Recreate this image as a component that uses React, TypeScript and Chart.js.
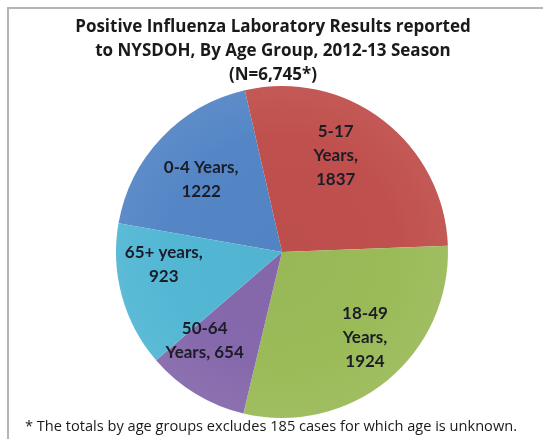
import React, { useEffect, useRef } from "react";
import { Chart, registerables } from "chart.js";

Chart.register(...registerables);

// ---- data ----
const ageGroups = ["0-4", "5-17", "18-49", "50-64", "65+"];
const yearWords = ["Years", "Years", "Years", "Years", "years"];
const cases = [1222, 1837, 1924, 654, 923];
const sliceColors = ["#5486C6", "#C0504D", "#9BBB59", "#8669AC", "#53B7D4"];
const titleLines = [
  "Positive Influenza Laboratory Results reported",
  "to NYSDOH, By Age Group, 2012-13 Season",
  "(N=6,745*)",
];
const footnote = "* The totals by age groups excludes 185 cases for which age is unknown.";

// label wrapping style per slice: a = "grp word," / value ; b = grp / word, / value ; c = grp / "word, value"
const labelWrap = ["a", "b", "b", "c", "a"];
// label anchor: fraction along the arc span, fraction of radius
const labelAnchor: [number, number][] = [
  [0.477, 0.655],
  [0.416, 0.667],
  [0.453, 0.716],
  [0.767, 0.71],
  [0.684, 0.716],
];

function labelLines(i: number): string[] {
  const g = ageGroups[i];
  const w = yearWords[i];
  const v = String(cases[i]);
  const m = labelWrap[i];
  if (m === "a") return [`${g} ${w},`, v];
  if (m === "b") return [g, `${w},`, v];
  return [g, `${w}, ${v}`];
}

function shade(hex: string, f: number): string {
  const n = parseInt(hex.slice(1), 16);
  let r = (n >> 16) & 255, g = (n >> 8) & 255, b = n & 255;
  if (f >= 0) {
    r = r + (255 - r) * f; g = g + (255 - g) * f; b = b + (255 - b) * f;
  } else {
    r = r * (1 + f); g = g * (1 + f); b = b * (1 + f);
  }
  return `rgb(${Math.round(r)},${Math.round(g)},${Math.round(b)})`;
}

const textPlugin = {
  id: "textPlugin",
  afterDraw(chart: any) {
    const ctx = chart.ctx;
    ctx.save();
    // title
    ctx.fillStyle = "#1a1a1a";
    ctx.textAlign = "center";
    ctx.textBaseline = "middle";
    ctx.font = "bold 17px 'Open Sans', Lato, sans-serif";
    titleLines.forEach((t, k) => ctx.fillText(t, 273, 27 + k * 24));
    // slice labels
    const meta = chart.getDatasetMeta(0);
    ctx.fillStyle = "#1c1c28";
    ctx.font = "bold 17px Lato, 'Open Sans', sans-serif";
    meta.data.forEach((arc: any, i: number) => {
      const p = arc.getProps(["x", "y", "startAngle", "endAngle", "outerRadius"], true);
      const [t, rf] = labelAnchor[i];
      const a = p.startAngle + (p.endAngle - p.startAngle) * t;
      const cx = p.x + Math.cos(a) * p.outerRadius * rf;
      const cy = p.y + Math.sin(a) * p.outerRadius * rf;
      const lines = labelLines(i);
      const lh = 24;
      const y0 = cy - ((lines.length - 1) * lh) / 2;
      lines.forEach((l, k) => ctx.fillText(l, cx, y0 + k * lh));
    });
    // footnote
    ctx.textAlign = "left";
    ctx.fillStyle = "#1a1a1a";
    ctx.font = "14.6px 'Open Sans', Lato, sans-serif";
    ctx.fillText(footnote, 25, 427);
    ctx.restore();
  },
};

export default function App() {
  const ref = useRef<HTMLCanvasElement>(null);
  useEffect(() => {
    const prev = document.body.style.margin;
    document.body.style.margin = "0";
    const chart = new Chart(ref.current as HTMLCanvasElement, {
      type: "pie",
      data: {
        labels: ageGroups.map((g, i) => `${g} ${yearWords[i]}`),
        datasets: [
          {
            data: cases,
            borderWidth: 0,
            backgroundColor: (c: any) => {
              const base = sliceColors[c.dataIndex];
              const area = c.chart.chartArea;
              if (!area) return base;
              const x = (area.left + area.right) / 2;
              const y = (area.top + area.bottom) / 2;
              const r = Math.min(area.right - area.left, area.bottom - area.top) / 2;
              const g = c.chart.ctx.createRadialGradient(x, y, 0, x, y, r);
              g.addColorStop(0, shade(base, -0.02));
              g.addColorStop(0.7, shade(base, 0.0));
              g.addColorStop(1, shade(base, 0.05));
              return g;
            },
          },
        ],
      },
      options: {
        responsive: false,
        animation: false,
        rotation: -80,
        layout: { padding: { left: 21, right: 0, top: 86, bottom: 21 } },
        plugins: {
          legend: { display: false },
          title: { display: false },
          tooltip: { enabled: false },
        },
      },
      plugins: [textPlugin],
    });
    return () => {
      chart.destroy();
      document.body.style.margin = prev;
    };
  }, []);
  return (
    <div style={{ position: "relative", width: 543, height: 439, background: "#fff", overflow: "hidden" }}>
      <canvas ref={ref} width={543} height={439} style={{ display: "block" }} />
      <div
        style={{
          position: "absolute",
          left: 7,
          top: 7,
          right: -10,
          bottom: -10,
          borderTop: "2px solid #b4b4b4",
          borderLeft: "2px solid #b4b4b4",
          pointerEvents: "none",
        }}
      />
    </div>
  );
}
